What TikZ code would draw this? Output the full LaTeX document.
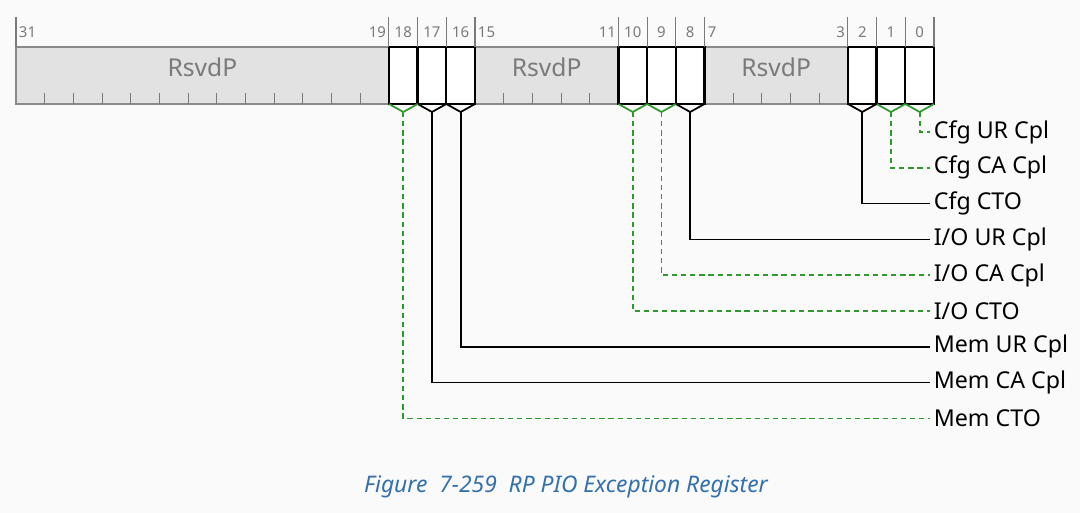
\documentclass[tikz,border=0pt]{standalone}
\usepackage{fontspec}
\setmainfont{Noto Sans}
\usetikzlibrary{positioning,calc}
\definecolor{bgpage}{HTML}{FAFAFA}
\definecolor{rsvdfill}{HTML}{E2E2E2}
\definecolor{rsvdline}{HTML}{8A8A8A}
\definecolor{numgray}{HTML}{7A7A7A}
\definecolor{linkgreen}{HTML}{2E9A2E}
\definecolor{capblue}{HTML}{3470AC}
\newcommand{\bitw}{0.57375cm}

\begin{document}
\begin{tikzpicture}[x=0.02cm, y=-0.02cm,
    rsvd/.style={draw=rsvdline, line width=1.1pt, fill=rsvdfill, inner sep=0pt, outer sep=0pt, minimum height=1.14cm, anchor=north west},
    bitbox/.style={draw=black, line width=1.3pt, fill=white, inner sep=0pt, outer sep=0pt, minimum width=\bitw, minimum height=1.14cm, anchor=north west},
    rsvdtxt/.style={font=\fontsize{14}{16}\selectfont, text=numgray, inner sep=0pt},
    bitnum/.style={font=\fontsize{8.5}{10}\selectfont, text=numgray, inner sep=1.5pt},
    tick/.style={draw=numgray, line width=0.6pt},
    fld/.style={font=\fontsize{13.2}{15}\selectfont, anchor=west, inner sep=2pt},
    blk/.style={draw=black, line width=1pt},
    grn/.style={draw=linkgreen, line width=1pt, dash pattern=on 3pt off 2.2pt}
]
\fill[bgpage] (0,0) rectangle (1080,513);
\useasboundingbox (0,0) rectangle (1080,513);

% reserved fields
\node[rsvd, minimum width=13*\bitw] (f31) at (16,47) {};
\node[rsvd, minimum width=5*\bitw] (f15) at ({16+16*28.6875},47) {};
\node[rsvd, minimum width=5*\bitw] (f7) at ({16+24*28.6875},47) {};
\foreach \f in {f31,f15,f7}
  \node[rsvdtxt] at ($(\f.north)+(0,20)$) {RsvdP};
\foreach \k in {1,...,12,17,18,19,20,25,26,27,28}
  \draw[tick] ({16+\k*28.6875},93) -- ({16+\k*28.6875},104);

% single bit fields
\foreach \b in {18,17,16,10,9,8,2,1,0}
  \node[bitbox] (b\b) at ({16+(31-\b)*28.6875},47) {};

% bit numbers
\foreach \k in {0,13,14,15,16,21,22,23,24,29,30,31,32}
  \draw[tick] ({16+\k*28.6875},17) -- ({16+\k*28.6875},47);
\node[bitnum, anchor=west] (n31) at (16,32) {31};
\node[bitnum, anchor=east] (n19) at (389,32) {19};
\node[bitnum, anchor=west] (n15) at (475,32) {15};
\node[bitnum, anchor=east] (n11) at (619,32) {11};
\node[bitnum, anchor=west] (n7) at (705,32) {7};
\node[bitnum, anchor=east] (n3) at (848,32) {3};
\foreach \b in {18,17,16,10,9,8,2,1,0}
  \node[bitnum] (n\b) at (b\b.north |- 0,32) {\b};

% field names
\foreach \b/\s/\i/\t in {0/grn/0/{Cfg UR Cpl}, 1/grn/1/{Cfg CA Cpl}, 2/blk/2/{Cfg CTO},
    8/blk/3/{I/O UR Cpl}, 9/grn/4/{I/O CA Cpl}, 10/grn/5/{I/O CTO},
    16/blk/6/{Mem UR Cpl}, 17/blk/7/{Mem CA Cpl}, 18/grn/8/{Mem CTO}} {
  \node[fld] (l\b) at (930,{132+\i*35.8}) {\t};
  \coordinate (t\b) at ($(b\b.south)+(0,8)$);
  \draw[\s, solid] (b\b.south west) -- (t\b) -- (b\b.south east);
  \draw[\s] (t\b) |- (l\b.west);
}

\node[font=\fontsize{13}{15}\selectfont\itshape, text=capblue] (cap) at (566,487) {Figure\ \ 7-259\ \ RP PIO Exception Register};
\end{tikzpicture}
\end{document}
